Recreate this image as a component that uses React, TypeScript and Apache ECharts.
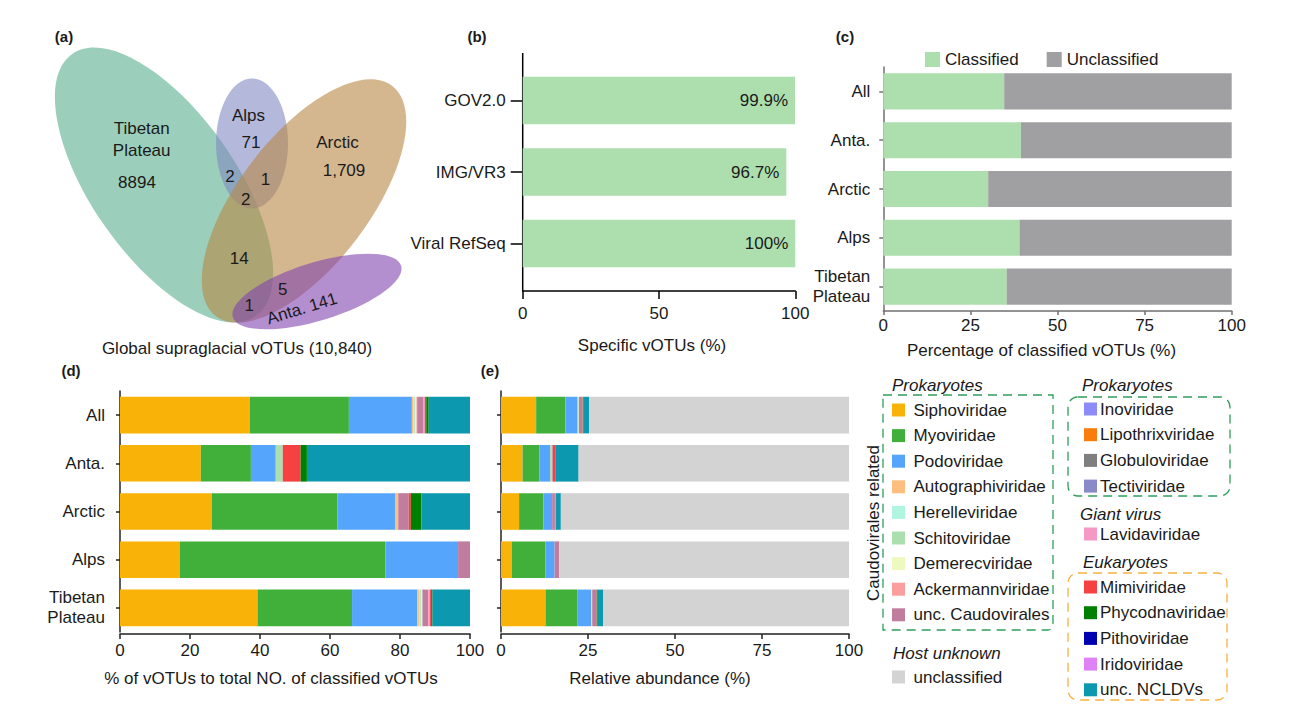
import React, { useEffect, useRef } from 'react';
import * as echarts from 'echarts';

const FONT = '"Liberation Sans", Arial, Helvetica, sans-serif';
const TXT = '#1a1a1a';

// ---------- data ----------
const sites = ['All', 'Anta.', 'Arctic', 'Alps', 'Tibetan\nPlateau'];

// panel b
const dbNames = ['GOV2.0', 'IMG/VR3', 'Viral RefSeq'];
const dbValues = [99.9, 96.7, 100];
const dbLabels = ['99.9%', '96.7%', '100%'];

// panel c
const classifiedPct = [34.7, 39.5, 30.1, 39.1, 35.4];
const unclassifiedPct = [65.3, 60.5, 69.9, 60.9, 64.6];

// panel d : % of vOTUs to total number of classified vOTUs  [All, Anta., Arctic, Alps, Tibetan Plateau]
const dSipho = [37.1, 23.1, 26.2, 17.1, 39.3];
const dMyo = [28.3, 14.3, 35.9, 58.7, 27.0];
const dPodo = [18.0, 7.1, 16.6, 20.8, 18.6];
const dAutographi = [0.4, 0, 0.8, 0, 0.5];
const dHerelle = [0.3, 0, 0, 0, 0.4];
const dSchito = [0.3, 2.0, 0, 0, 0.3];
const dDemerec = [0.3, 0, 0, 0, 0.3];
const dAckermann = [0.2, 0, 0, 0, 0];
const dUncCaudo = [1.7, 0, 3.0, 3.4, 1.7];
const dLavida = [0.5, 0, 0, 0, 0.5];
const dMimi = [0.4, 5.1, 0.6, 0, 0.3];
const dPhyco = [0.7, 1.8, 3.0, 0, 0.4];
const dNCLDV = [11.8, 46.6, 13.9, 0, 10.7];

// panel e : relative abundance (%)
const eSipho = [10.1, 6.2, 5.2, 3.1, 12.8];
const eMyo = [8.4, 4.8, 7.0, 9.7, 9.1];
const ePodo = [3.5, 3.1, 2.5, 2.6, 4.0];
const eAutographi = [0.2, 0, 0, 0, 0.1];
const eHerelle = [0.1, 0, 0, 0, 0.1];
const eSchito = [0.1, 0.6, 0, 0, 0.1];
const eUncCaudo = [0.9, 0.2, 0.8, 1.3, 1.1];
const eLavida = [0.1, 0, 0.2, 0, 0.1];
const eMimi = [0.1, 0.8, 0, 0, 0.1];
const ePhyco = [0.1, 0.1, 0, 0, 0.1];
const eNCLDV = [1.7, 6.5, 1.5, 0, 1.8];
const eUnclassified = [74.7, 77.7, 82.8, 83.3, 70.6];

// legend families
const caudoNames = ['Siphoviridae', 'Myoviridae', 'Podoviridae', 'Autographiviridae', 'Herelleviridae', 'Schitoviridae', 'Demerecviridae', 'Ackermannviridae', 'unc. Caudovirales'];
const caudoColors = ['#F9B208', '#41B03B', '#55A5FC', '#FDBE7E', '#B0F5E0', '#ADDEAF', '#EEF9C0', '#FD9E9E', '#C17D9E'];
const otherProkNames = ['Inoviridae', 'Lipothrixviridae', 'Globuloviridae', 'Tectiviridae'];
const otherProkColors = ['#8C8CF8', '#F97C0C', '#7F7F7F', '#8A8AC8'];
const giantNames = ['Lavidaviridae'];
const giantColors = ['#F598C6'];
const eukNames = ['Mimiviridae', 'Phycodnaviridae', 'Pithoviridae', 'Iridoviridae', 'unc. NCLDVs'];
const eukColors = ['#F54141', '#008000', '#0000B0', '#DE82F5', '#0C99B0'];
const unknownNames = ['unclassified'];
const unknownColors = ['#D3D3D3'];

// venn
const vennSets = ['Tibetan Plateau', 'Alps', 'Arctic', 'Anta.'];
const vennColors = ['rgba(90,175,142,0.6)', 'rgba(130,137,193,0.6)', 'rgba(185,135,68,0.6)', 'rgba(128,68,177,0.6)'];
const vennCounts = ['8894', '71', '1,709', '141', '2', '1', '2', '14', '1', '5'];
const totalLabel = 'Global supraglacial vOTUs (10,840)';

const dSeries: [string, string, number[]][] = [
  ['Siphoviridae', '#F9B208', dSipho],
  ['Myoviridae', '#41B03B', dMyo],
  ['Podoviridae', '#55A5FC', dPodo],
  ['Autographiviridae', '#FDBE7E', dAutographi],
  ['Herelleviridae', '#B0F5E0', dHerelle],
  ['Schitoviridae', '#ADDEAF', dSchito],
  ['Demerecviridae', '#EEF9C0', dDemerec],
  ['Ackermannviridae', '#FD9E9E', dAckermann],
  ['unc. Caudovirales', '#C17D9E', dUncCaudo],
  ['Lavidaviridae', '#F598C6', dLavida],
  ['Mimiviridae', '#F54141', dMimi],
  ['Phycodnaviridae', '#008000', dPhyco],
  ['unc. NCLDVs', '#0C99B0', dNCLDV],
];
const eSeries: [string, string, number[]][] = [
  ['Siphoviridae', '#F9B208', eSipho],
  ['Myoviridae', '#41B03B', eMyo],
  ['Podoviridae', '#55A5FC', ePodo],
  ['Autographiviridae', '#FDBE7E', eAutographi],
  ['Herelleviridae', '#B0F5E0', eHerelle],
  ['Schitoviridae', '#ADDEAF', eSchito],
  ['unc. Caudovirales', '#C17D9E', eUncCaudo],
  ['Lavidaviridae', '#F598C6', eLavida],
  ['Mimiviridae', '#F54141', eMimi],
  ['Phycodnaviridae', '#008000', ePhyco],
  ['unc. NCLDVs', '#0C99B0', eNCLDV],
  ['unclassified', '#D3D3D3', eUnclassified],
];

// ---------- helpers ----------
const txt = (text: string, x: number, y: number, opts: any = {}) => ({
  type: 'text',
  x, y,
  rotation: opts.rotation || 0,
  z: opts.z || 10,
  style: {
    text,
    x: 0, y: 0,
    font: `${opts.italic ? 'italic ' : ''}${opts.bold ? 'bold ' : ''}${opts.size || 17}px ${FONT}`,
    fill: opts.color || TXT,
    textAlign: opts.align || 'center',
    textVerticalAlign: 'middle',
    backgroundColor: opts.bg,
    padding: opts.bg ? [0, 3] : 0,
  },
});

function legendBlock(names: string[], colors: string[], sqX: number, textX: number, y0: number, step: number) {
  const els: any[] = [];
  names.forEach((n, i) => {
    const y = y0 + i * step;
    els.push({ type: 'rect', shape: { x: sqX, y: y - 6.5, width: 13, height: 13 }, style: { fill: colors[i] }, z: 10 });
    els.push(txt(n, textX, y, { align: 'left' }));
  });
  return els;
}

function valueAxis(gridIndex: number, interval: number, color: string, tickLen: number, margin: number, offset: number) {
  return {
    type: 'value', gridIndex, min: 0, max: 100, interval, offset,
    axisLine: { show: true, lineStyle: { color, width: 1.5 } },
    axisTick: { show: true, length: tickLen, lineStyle: { color, width: 1.5 } },
    axisLabel: { show: true, margin, fontSize: 17, color: TXT, fontFamily: FONT },
    splitLine: { show: false },
  };
}

function catAxis(gridIndex: number, data: string[], color: string, tickLen: number, margin: number, showLine: boolean, showLabel: boolean) {
  return {
    type: 'category', gridIndex, data, inverse: true,
    axisLine: { show: showLine, lineStyle: { color, width: 1.5 } },
    axisTick: { show: true, alignWithLabel: true, length: tickLen, lineStyle: { color, width: 1.5 } },
    axisLabel: { show: showLabel, margin, fontSize: 17, color: TXT, fontFamily: FONT, lineHeight: 20, align: 'right' },
    splitLine: { show: false },
  };
}

export default function App() {
  const ref = useRef<HTMLDivElement>(null);
  useEffect(() => {
    const chart = echarts.init(ref.current!, null, { renderer: 'svg' });
    const deg = Math.PI / 180;

    const series: any[] = [];
    series.push({
      type: 'bar', name: 'Specific vOTUs', xAxisIndex: 0, yAxisIndex: 0, data: dbValues, barWidth: '66.6%',
      itemStyle: { color: '#ADDFAE' },
      label: { show: true, position: 'insideRight', distance: 7, fontSize: 17, color: TXT, fontFamily: FONT, formatter: (p: any) => dbLabels[p.dataIndex] },
    });
    series.push({ type: 'bar', name: 'Classified', xAxisIndex: 1, yAxisIndex: 1, stack: 'c', data: classifiedPct, barWidth: '74%', itemStyle: { color: '#ADDFAE' } });
    series.push({ type: 'bar', name: 'Unclassified', xAxisIndex: 1, yAxisIndex: 1, stack: 'c', data: unclassifiedPct, barWidth: '74%', itemStyle: { color: '#A0A0A2' } });
    dSeries.forEach(([n, c, d]) => series.push({ type: 'bar', name: n, xAxisIndex: 2, yAxisIndex: 2, stack: 'd', data: d, barWidth: '76%', itemStyle: { color: c } }));
    eSeries.forEach(([n, c, d]) => series.push({ type: 'bar', name: n, xAxisIndex: 3, yAxisIndex: 3, stack: 'e', data: d, barWidth: '76%', itemStyle: { color: c } }));

    const graphics: any[] = [
      // panel labels
      txt('(a)', 64, 36, { bold: true, size: 15 }),
      txt('(b)', 477, 36, { bold: true, size: 15 }),
      txt('(c)', 845, 36, { bold: true, size: 15 }),
      txt('(d)', 71, 370, { bold: true, size: 15 }),
      txt('(e)', 490, 370, { bold: true, size: 15 }),
      // venn
      { type: 'ellipse', x: 164, y: 185, rotation: -55 * deg, shape: { cx: 0, cy: 0, rx: 160, ry: 72 }, style: { fill: vennColors[0] } },
      { type: 'ellipse', x: 252, y: 143.5, rotation: 0, shape: { cx: 0, cy: 0, rx: 36, ry: 65 }, style: { fill: vennColors[1] } },
      { type: 'ellipse', x: 304, y: 201, rotation: 52.5 * deg, shape: { cx: 0, cy: 0, rx: 145, ry: 65 }, style: { fill: vennColors[2] } },
      { type: 'ellipse', x: 317, y: 291.5, rotation: 17 * deg, shape: { cx: 0, cy: 0, rx: 88, ry: 29 }, style: { fill: vennColors[3] } },
      txt('Tibetan', 141.7, 128.5),
      txt('Plateau', 141.7, 150),
      txt(vennCounts[0], 137, 182),
      txt(vennSets[1], 248.5, 115),
      txt(vennCounts[1], 251, 142),
      txt(vennSets[2], 337.5, 142),
      txt(vennCounts[2], 344, 170),
      txt(vennCounts[4], 230, 176),
      txt(vennCounts[5], 265.5, 179.5),
      txt(vennCounts[6], 245.7, 199.5),
      txt(vennCounts[7], 239.3, 258.5),
      txt(vennCounts[8], 249.3, 305),
      txt(vennCounts[9], 282.7, 289.5),
      txt(`${vennSets[3]} ${vennCounts[3]}`, 302, 308.5, { rotation: 17 * deg }),
      txt(totalLabel, 237, 348.5),
      // axis names
      txt('Specific vOTUs (%)', 652, 345),
      txt('Percentage of classified vOTUs (%)', 1041.5, 350),
      txt('% of vOTUs to total NO. of classified vOTUs', 271, 678.5),
      txt('Relative abundance (%)', 660, 678.5),
      // panel b vertical axis line
      { type: 'line', shape: { x1: 522.7, y1: 53, x2: 522.7, y2: 291.5 }, style: { stroke: '#000', lineWidth: 1.5 } },
      // legend boxes
      { type: 'rect', shape: { x: 883, y: 395, width: 170, height: 235, r: [0, 0, 5, 0] }, style: { fill: 'none', stroke: '#2E9E5B', lineWidth: 1.3, lineDash: [9, 6] } },
      { type: 'rect', shape: { x: 1068, y: 397, width: 162, height: 99, r: 10 }, style: { fill: 'none', stroke: '#2E9E5B', lineWidth: 1.3, lineDash: [9, 6] } },
      { type: 'rect', shape: { x: 1068, y: 573, width: 159, height: 127, r: 10 }, style: { fill: 'none', stroke: '#F9B040', lineWidth: 1.3, lineDash: [9, 6] } },
      txt('Caudovirales related', 873, 523, { rotation: 90 * deg, bg: '#fff' }),
      txt('Prokaryotes', 892, 385.5, { italic: true, align: 'left' }),
      txt('Host unknown', 893, 653, { italic: true, align: 'left' }),
      txt('Prokaryotes', 1079, 385.5, { italic: true, align: 'left', bg: '#fff' }),
      txt('Giant virus', 1080, 514, { italic: true, align: 'left' }),
      txt('Eukaryotes', 1080, 562.5, { italic: true, align: 'left', bg: '#fff' }),
      ...legendBlock(caudoNames, caudoColors, 892, 913.5, 410, 25.6),
      ...legendBlock(unknownNames, unknownColors, 892, 913.5, 677, 25.6),
      ...legendBlock(otherProkNames, otherProkColors, 1084, 1100, 409, 25.7),
      ...legendBlock(giantNames, giantColors, 1084, 1100, 534, 25.7),
      ...legendBlock(eukNames, eukColors, 1084, 1100, 587, 25.7),
    ];

    chart.setOption({
      animation: false,
      backgroundColor: '#fff',
      textStyle: { fontFamily: FONT },
      legend: {
        data: ['Classified', 'Unclassified'],
        left: 920, top: 46, itemWidth: 15, itemHeight: 15, itemGap: 28,
        icon: 'rect', selectedMode: false,
        textStyle: { fontSize: 17, color: TXT, fontFamily: FONT },
      },
      grid: [
        { left: 522.7, top: 64.75, width: 272.6, height: 214.5 },
        { left: 883.3, top: 67, width: 348.4, height: 244 },
        { left: 120, top: 391, width: 350, height: 241 },
        { left: 501, top: 391, width: 348, height: 241 },
      ],
      xAxis: [
        valueAxis(0, 50, '#000', 8, 14, 11.8),
        valueAxis(1, 25, '#707070', 4, 6, 0),
        valueAxis(2, 20, '#222', 5, 8, 2),
        valueAxis(3, 25, '#222', 5, 8, 2),
      ],
      yAxis: [
        catAxis(0, dbNames, '#000', 12, 17, false, true),
        catAxis(1, sites, '#707070', 4, 13, true, true),
        catAxis(2, sites, '#222', 4, 15, true, true),
        catAxis(3, sites, '#222', 4, 15, true, false),
      ],
      series,
      graphic: { elements: graphics },
    });
    return () => chart.dispose();
  }, []);
  return <div ref={ref} style={{ position: 'absolute', left: 0, top: 0, width: 1308, height: 714 }} />;
}
